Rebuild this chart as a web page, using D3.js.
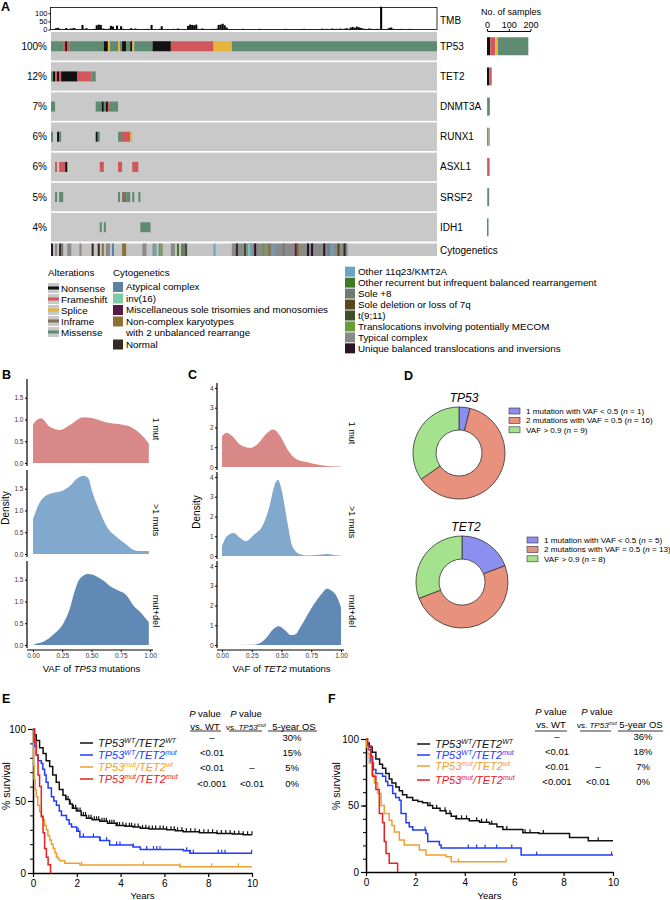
<!DOCTYPE html>
<html>
<head>
<meta charset="utf-8">
<script src="https://cdn.jsdelivr.net/npm/d3@7"></script>
<style>
body { margin: 0; background: #fff; }
svg { font-family: "Liberation Sans", Arial, Helvetica, sans-serif; }
</style>
</head>
<body>
<svg id="chart" width="670" height="900"></svg>
<script>
// ---------- panel A data ----------
const nSamples = 190
const genes = ["TP53", "TET2", "DNMT3A", "RUNX1", "ASXL1", "SRSF2", "IDH1"]
const genePct = ["100%", "12%", "7%", "6%", "6%", "5%", "4%"]
const altTypes = ["N", "F", "S", "I", "M"]
const altNames = ["Nonsense", "Frameshift", "Splice", "Inframe", "Missense"]
const altColors = ["#111111", "#d0575b", "#e5b43c", "#7d7058", "#5f8b73"]

// [first sample, last sample (excl), alteration]
const tp53Muts = [[0,6,"M"],[6,7,"F"],[7,8,"N"],[8,9,"F"],[9,26,"M"],[26,28,"N"],[28,29,"S"],[29,33,"M"],[33,34,"S"],[34,35,"M"],[35,37,"N"],[37,39,"M"],[39,40,"N"],[40,41,"S"],[41,50,"M"],[50,59,"N"],[59,80,"F"],[80,89,"S"],[89,190,"M"]]
const tet2Muts = [[0,1,"M"],[1,2,"N"],[2,3,"F"],[3,4,"N"],[4,5,"F"],[5,13,"N"],[13,20,"F"],[20,22,"M"]]
const dnmt3aMuts = [[0,2,"M"],[22,25,"M"],[25,26,"N"],[26,27,"M"],[27,28,"N"],[28,29,"F"],[29,33,"M"]]
const runx1Muts = [[0,1,"M"],[3,4,"N"],[4,5,"M"],[22,23,"N"],[23,24,"M"],[33,35,"M"],[35,39,"F"],[39,40,"S"]]
const asxl1Muts = [[2,3,"F"],[4,7,"F"],[7,8,"N"],[24,26,"F"],[33,35,"F"],[40,43,"F"]]
const srsf2Muts = [[2,3,"M"],[4,6,"M"],[33,34,"M"],[35,37,"I"],[37,39,"M"],[40,41,"M"],[43,44,"M"]]
const idh1Muts = [[24,25,"M"],[26,27,"M"],[44,49,"M"]]
const geneMuts = [tp53Muts, tet2Muts, dnmt3aMuts, runx1Muts, asxl1Muts, srsf2Muts, idh1Muts]

const tmb = [
  3,2,8,10,4,2,3,9,2,5, 7,9,3,1,2,28,4,8,2,1, 3,4,26,30,28,6,4,2,5,22, 18,3,24,2,20,4,2,1,3,8,
  2,6,3,1,2,1,3,4,2,28, 3,2,1,4,20,2,1,3,2,1, 4,2,6,1,2,3,2,22,30,28, 26,30,4,2,6,3,1,2,3,4,
  2,5,28,30,35,26,12,3,2,1, 2,1,3,1,4,2,1,2,3,1, 2,1,4,2,1,3,2,1,2,1, 1,3,2,1,2,4,1,2,1,3,
  2,1,3,2,4,1,2,3,1,2, 3,2,1,5,2,4,3,2,6,3, 4,2,6,3,5,8,4,12,16,10, 18,14,10,6,4,3,6,4,3,2,
  4,3,140,3,2,4,10,12,4,2, 3,2,4,1,3,2,4,3,1,2, 0,1,0,0,1,0,0,0,1,0
]

const cytoKeys = ["AC","INV16","MISC","NCK","NORM","K11","OREC","S8","DEL7","T911","MECOM","TC","UNQ"]
const cytoNames = ["Atypical complex","inv(16)","Miscellaneous sole trisomies and monosomies","Non-complex karyotypes","Normal",
  "Other 11q23/KMT2A","Other recurrent but infrequent balanced rearrangement","Sole +8","Sole deletion or loss of 7q","t(9;11)",
  "Translocations involving potentially MECOM","Typical complex","Unique balanced translocations and inversions"]
const cytoColors = ["#5b83a0","#7ccaa8","#5a1a48","#8a7234","#352a22","#6aa3c4","#3f7a22","#6f7a70","#5c4420","#3e5028","#6a9c38","#8a8a8a","#2b1424"]
const cytoSegs = [
  [89,146,"TC"],[2,3,"TC"],[8,10,"TC"],[14,15,"TC"],[27,29,"TC"],[45,47,"TC"],[50,51,"TC"],[54,55,"TC"],[59,61,"TC"],
  [0,1,"UNQ"],[4,5,"NORM"],[5,6,"S8"],[20,21,"NORM"],[23,24,"NORM"],[25,26,"NCK"],[30,31,"AC"],[35,37,"NCK"],
  [51,52,"K11"],[53,54,"MECOM"],[62,63,"OREC"],[64,66,"S8"],[66,67,"T911"],[80,81,"K11"],[91,92,"NORM"],[95,96,"T911"],
  [97,98,"INV16"],[98,99,"K11"],[100,101,"UNQ"],[104,105,"MECOM"],[107,108,"NCK"],[109,110,"K11"],[114,115,"S8"],
  [120,121,"MISC"],[121,122,"NCK"],[126,127,"UNQ"],[128,129,"UNQ"],[134,135,"UNQ"],[136,137,"AC"],[138,139,"K11"],
  [141,142,"DEL7"],[144,145,"NORM"]
]

// ---------- panels B, C data: [VAF, density] ----------
const tp53OneMut = [[0,0.89],[0.043,1.01],[0.07,1.03],[0.14,0.84],[0.23,0.76],[0.32,0.88],[0.43,1.05],[0.51,1.03],[0.63,0.93],[0.74,0.89],[0.84,0.82],[0.91,0.69],[0.99,0.45]]
const tp53MultiMut = [[0,0.79],[0.04,1.09],[0.1,1.32],[0.17,1.40],[0.24,1.44],[0.31,1.55],[0.385,1.75],[0.43,1.80],[0.47,1.75],[0.51,1.40],[0.57,0.98],[0.63,0.63],[0.71,0.40],[0.80,0.21],[0.86,0.09],[0.91,0.07],[0.99,0.07]]
const tp53MutDel = [[0.01,0.02],[0.1,0.09],[0.17,0.23],[0.26,0.5],[0.31,0.8],[0.36,1.27],[0.4,1.52],[0.47,1.63],[0.54,1.58],[0.6,1.48],[0.66,1.35],[0.73,1.25],[0.8,1.14],[0.86,0.9],[0.93,0.72],[0.99,0.52]]
const tet2OneMut = [[0,1.56],[0.04,1.73],[0.1,1.48],[0.15,1.14],[0.24,0.97],[0.31,1.23],[0.38,1.73],[0.43,1.90],[0.49,1.56],[0.55,0.89],[0.63,0.38],[0.72,0.24],[0.80,0.13],[0.91,0.04],[1.0,0.02]]
const tet2MultiMut = [[0,0.5],[0.04,1.0],[0.1,1.17],[0.15,0.92],[0.2,0.75],[0.27,1.09],[0.34,1.52],[0.4,2.54],[0.44,3.56],[0.47,3.86],[0.5,3.38],[0.55,1.69],[0.59,0.5],[0.65,0.1],[0.72,0.02],[0.82,0.06],[0.89,0.1],[0.95,0.04],[1.0,0.02]]
const tet2MutDel = [[0,0],[0.26,0.01],[0.32,0.1],[0.38,0.42],[0.43,0.8],[0.48,0.95],[0.53,0.75],[0.58,0.5],[0.62,0.55],[0.66,0.92],[0.74,1.75],[0.8,2.3],[0.84,2.6],[0.88,2.84],[0.92,2.75],[0.96,2.5],[1.0,1.9]]
const facetNames = ["1 mut", ">1 muts", "mut+del"]
const facetColors = ["#d98888", "#80a9cd", "#6089b5"]

// ---------- panel D data ----------
const donutCats = ["1 mutation with VAF < 0.5", "2 mutations with VAF = 0.5", "VAF > 0.9"]
const donutColors = ["#8c8ff0", "#e8917c", "#a5e28d"]
const tp53Donut = [1, 16, 9]
const tet2Donut = [5, 13, 8]

// ---------- panels E, F data: [years, % survival] ----------
const kmSup = [["WT","WT"],["WT","mut"],["mut","wt"],["mut","mut"]]
const kmColors = ["#111111", "#1f3bff", "#f0a030", "#e8201e"]
const eWtWt = [[0,100],[0.05,96],[0.15,92],[0.3,87],[0.46,83],[0.6,78],[0.76,74],[0.9,68],[1.06,63],[1.2,58],[1.37,54],[1.5,51],[1.67,48],[1.8,45],[1.98,43],[2.2,40],[2.44,38],[2.7,37],[3.05,36],[3.4,34.5],[3.8,33],[4.2,32.5],[4.57,32],[4.9,31],[5.3,30.5],[6.1,30],[6.5,29.3],[6.86,28.7],[7.6,28],[8.4,27.5],[9.1,27],[9.6,26.5],[10,26.5]]
const eWtMut = [[0,100],[0.08,88],[0.15,82],[0.23,78],[0.38,76],[0.45,72],[0.53,68],[0.6,63],[0.69,59],[0.84,53],[0.95,50],[1.07,47],[1.2,43],[1.3,40],[1.53,37],[1.65,34],[1.76,32],[2.0,29],[2.14,25],[3.05,22.5],[3.5,19.4],[4.57,18],[4.9,16.4],[6.87,15.5],[7.17,13.7],[10,13.7]]
const eMutWt = [[0,100],[0.02,75],[0.05,65],[0.1,58],[0.15,53],[0.22,47],[0.3,42.5],[0.38,40],[0.46,37],[0.53,33],[0.61,30],[0.68,26],[0.76,23],[0.84,20],[0.92,17],[1.0,14],[1.07,11],[1.15,9.5],[1.22,8.5],[1.45,6.7],[2.14,5.5],[6.7,4.4],[10,4.4]]
const eMutMut = [[0,100],[0.05,91],[0.15,82],[0.23,68],[0.3,60],[0.38,39],[0.46,28],[0.53,17],[0.61,11],[0.69,5.7],[0.8,0]]
const eCens = [
  [1.5,1.6,1.7,1.85,1.95,2.05,2.15,2.3,2.4,2.55,2.65,2.8,2.9,3.0,3.15,3.25,3.35,3.5,3.6,3.7,3.85,3.95,4.1,4.25,4.4,4.5,4.65,4.8,5.0,5.15,5.3,5.45,5.6,5.8,5.95,6.1,6.3,6.45,6.6,6.8,7.0,7.2,7.4,7.6,7.8,8.0,8.2,8.4,8.6,8.8,9.0,9.2,9.4,9.6,9.8,10],
  [2.07,2.3,2.76,3.06,3.36,3.82,3.97,4.58,5.19,5.5,5.65,5.8,7.02,7.17,7.32,8.46,8.62,8.77,9.98],
  [2.22,5.04,6.71,8.16,9.38],
  []
]
const fWtWt = [[0,100],[0.05,97],[0.13,94],[0.25,90],[0.4,85],[0.55,81],[0.67,78],[0.8,74],[0.94,70],[1.05,67],[1.21,64],[1.35,61],[1.48,58],[1.65,56],[1.89,54],[2.1,53],[2.29,52],[2.5,50],[2.7,48],[3.0,46],[3.24,44],[3.45,42],[3.64,40],[4.18,38.6],[4.6,37.5],[5.0,36],[5.3,34],[5.54,32],[6.35,29.5],[7.0,29],[8.24,26],[9.0,23.5],[10,23.5]]
const fWtMut = [[0,100],[0.05,96],[0.1,92],[0.2,82],[0.3,77],[0.4,74],[0.67,72],[0.8,68],[0.88,65],[1.08,59],[1.2,56],[1.35,54],[1.42,44],[1.62,37],[1.75,34],[1.89,31.6],[2.43,29],[2.5,23],[2.97,20.3],[3.04,18],[6.28,12.8],[10,12.8]]
const fMutWt = [[0,100],[0.03,94],[0.07,89],[0.13,82],[0.23,73],[0.34,67],[0.47,59],[0.61,50],[0.74,44],[0.94,39],[1.05,35],[1.15,30],[1.35,24],[1.55,20.3],[2.16,16.5],[2.43,12.8],[3.24,11.5],[3.45,7.7],[5.68,7.7]]
const fMutMut = [[0,100],[0.07,95],[0.2,87],[0.27,72],[0.4,62],[0.54,44],[0.67,37],[0.74,23],[0.81,14],[0.94,6.5],[1.28,0]]
const fCens = [
  [2.59,2.86,3.2,3.4,3.67,3.87,4.07,4.48,4.68,4.88,5.09,5.7,6.44,6.64,7.18,9.4],
  [2.39,4.14,4.48,4.82,5.29,5.9,6.91,9.94],
  [3.74,5.68],
  []
]
const pVsWt = ["\u2013", "<0.01", "<0.01", "<0.001"]
const pVsMut = ["", "", "\u2013", "<0.01"]
const eOs5 = ["30%", "15%", "5%", "0%"]
const fOs5 = ["36%", "18%", "7%", "0%"]

// ---------------------------------------------------------------
const svg = d3.select("#chart")
const typeColor = {}
altTypes.forEach((t, i) => typeColor[t] = altColors[i])
const cytoColor = {}
cytoKeys.forEach((k, i) => cytoColor[k] = cytoColors[i])

function letter(t, x, y) {
  svg.append("text").attr("x", x).attr("y", y).attr("font-size", 12.5).attr("font-weight", "bold").text(t)
}

// ---------- A: TMB ----------
const xS = d3.scaleLinear().domain([0, nSamples]).range([51, 437])
const tmbY = d3.scaleLinear().domain([0, 135]).range([29.5, 7.5])
const gA = svg.append("g")
gA.append("g").selectAll("rect").data(tmb).join("rect")
  .attr("x", (d, i) => xS(i)).attr("width", xS(1) - xS(0))
  .attr("y", d => tmbY(d)).attr("height", d => tmbY(0) - tmbY(d))
  .attr("fill", "#000")
gA.append("rect").attr("x", 50.5).attr("y", 7.5).attr("width", 386.5).attr("height", 22)
  .attr("fill", "none").attr("stroke", "#000").attr("stroke-width", 0.8)
gA.append("g").attr("transform", "translate(50.5,0)")
  .call(d3.axisLeft(tmbY).tickValues([0, 50, 100]).tickSize(2).tickPadding(1).tickSizeOuter(0))
  .call(g => g.select(".domain").remove())
  .call(g => g.selectAll("text").attr("font-size", 7.5).attr("font-family", null))
gA.append("text").attr("x", 440).attr("y", 23.5).attr("font-size", 10).text("TMB")

// ---------- A: oncoprint ----------
const rowY = d3.scaleBand().domain(genes).range([32, 241.5]).paddingInner(0.055)
gA.append("g").selectAll("rect").data(genes).join("rect")
  .attr("x", xS(0)).attr("width", xS(nSamples) - xS(0))
  .attr("y", d => rowY(d)).attr("height", rowY.bandwidth())
  .attr("fill", "#c9c9c9")
genes.forEach((g, gi) => {
  const cy = rowY(g) + rowY.bandwidth() / 2
  gA.append("g").selectAll("rect").data(geneMuts[gi]).join("rect")
    .attr("x", d => xS(d[0])).attr("width", d => xS(d[1]) - xS(d[0]))
    .attr("y", cy - 5).attr("height", 10)
    .attr("fill", d => typeColor[d[2]])
  gA.append("text").attr("x", 47).attr("y", cy + 3.5).attr("text-anchor", "end")
    .attr("font-size", 10).text(genePct[gi])
  gA.append("text").attr("x", 440).attr("y", cy + 3.5).attr("font-size", 10).text(g)
})
gA.append("rect").attr("x", xS(0)).attr("width", xS(nSamples) - xS(0))
  .attr("y", 243.5).attr("height", 12.5).attr("fill", "#c4c4c4")
gA.append("g").selectAll("rect").data(cytoSegs).join("rect")
  .attr("x", d => xS(d[0])).attr("width", d => xS(d[1]) - xS(d[0]))
  .attr("y", 243.5).attr("height", 12.5)
  .attr("fill", d => cytoColor[d[2]])
gA.append("text").attr("x", 440).attr("y", 253.5).attr("font-size", 10).text("Cytogenetics")

// ---------- A: sample count bars ----------
const xB = d3.scaleLinear().domain([0, 200]).range([487, 530.5])
genes.forEach((g, gi) => {
  const cy = rowY(g) + rowY.bandwidth() / 2
  let acc = 0
  const stack = altTypes.map(t => {
    const n = d3.sum(geneMuts[gi].filter(d => d[2] === t), d => d[1] - d[0])
    const s = [acc, acc + n, t]
    acc += n
    return s
  }).filter(s => s[1] > s[0])
  gA.append("g").selectAll("rect").data(stack).join("rect")
    .attr("x", d => xB(d[0])).attr("width", d => xB(d[1]) - xB(d[0]))
    .attr("y", cy - 9).attr("height", 18)
    .attr("fill", d => typeColor[d[2]])
})
gA.append("g").attr("transform", "translate(0,31)")
  .call(d3.axisTop(xB).tickValues([0, 100, 200]).tickSize(2).tickPadding(1).tickSizeOuter(0))
  .call(g => g.selectAll("text").attr("font-size", 9).attr("font-family", null))
gA.append("text").attr("x", 481).attr("y", 14.5).attr("font-size", 9).text("No. of samples")
letter("A", 1, 11)

// ---------- A: legends ----------
const legA = svg.append("g").attr("font-size", 9.8)
legA.append("text").attr("x", 48).attr("y", 276).text("Alterations")
altTypes.forEach((t, i) => {
  const cy = 288 + i * 11
  legA.append("rect").attr("x", 48).attr("y", cy - 5).attr("width", 11).attr("height", 10).attr("fill", "#c9c9c9")
  legA.append("rect").attr("x", 48).attr("y", cy - 1.5).attr("width", 11).attr("height", 3).attr("fill", altColors[i])
  legA.append("text").attr("x", 61).attr("y", cy + 3.5).text(altNames[i])
})
legA.append("text").attr("x", 113).attr("y", 276).text("Cytogenetics")
const leftSlots = [0, 1, 2, 3, 5]
cytoNames.forEach((name, i) => {
  let sx, cy
  if (i < 5) { sx = 113; cy = 287 + leftSlots[i] * 11.5 }
  else { sx = 345; cy = 271.7 + (i - 5) * 10.95 }
  legA.append("rect").attr("x", sx).attr("y", cy - 5).attr("width", 10).attr("height", 10).attr("fill", cytoColors[i])
  legA.append("text").attr("x", sx + 13).attr("y", cy + 3.4).text(name)
})
legA.append("text").attr("x", 126).attr("y", 333 + 3.4).text("with 2 unbalanced rearrange")

// ---------- B, C: density plots ----------
function densityPanel(cfg) {
  const g = svg.append("g")
  const x = d3.scaleLinear().domain([0, 1]).range(cfg.xr)
  cfg.data.forEach((data, k) => {
    const z = cfg.zeros[k]
    const y = d3.scaleLinear().domain([0, cfg.yMax]).range([z, z - 84])
    const area = d3.area().x(d => x(d[0])).y0(z).y1(d => y(d[1])).curve(d3.curveMonotoneX)
    g.append("path").datum(data).attr("d", area).attr("fill", facetColors[k])
    g.append("g").attr("transform", `translate(${cfg.axisX},0)`)
      .call(d3.axisLeft(y).tickValues(cfg.yTicks).tickFormat(d3.format(cfg.fmt)).tickSize(2).tickPadding(1.5))
      .call(s => s.select(".domain").remove())
      .call(s => s.selectAll("text").attr("font-size", 6.5).attr("fill", "#333").attr("font-family", null))
    g.append("line").attr("x1", cfg.axisX).attr("x2", cfg.axisX).attr("y1", z - 84).attr("y2", z + 3)
      .attr("stroke", "#000").attr("stroke-width", 1.2)
    g.append("text").attr("transform", `translate(${cfg.labelX},${z - 34}) rotate(90)`)
      .attr("text-anchor", "middle").attr("font-size", 9).text(facetNames[k])
  })
  const yb = cfg.zeros[2] + 5
  g.append("g").attr("transform", `translate(0,${yb})`)
    .call(d3.axisBottom(x).tickValues([0, 0.25, 0.5, 0.75, 1]).tickFormat(d3.format(".2f")).tickSize(2).tickPadding(1.5))
    .call(s => s.select(".domain").remove())
    .call(s => s.selectAll("text").attr("font-size", 6.5).attr("fill", "#333").attr("font-family", null))
  g.append("line").attr("x1", cfg.axisX).attr("x2", cfg.xr[1] + 3).attr("y1", yb).attr("y2", yb)
    .attr("stroke", "#000").attr("stroke-width", 1.2)
  const xl = g.append("text").attr("x", (cfg.xr[0] + cfg.xr[1]) / 2).attr("y", 672)
    .attr("text-anchor", "middle").attr("font-size", 9.5)
  xl.append("tspan").text("VAF of ")
  xl.append("tspan").attr("font-style", "italic").text(cfg.gene)
  xl.append("tspan").text(" mutations")
  g.append("text").attr("transform", `translate(${cfg.densX},${cfg.densY}) rotate(-90)`)
    .attr("text-anchor", "middle").attr("font-size", 10).text("Density")
}
densityPanel({ xr: [33, 150], axisX: 27, zeros: [463, 554, 645], yMax: 1.93, yTicks: [0, 0.5, 1, 1.5], fmt: ".1f",
  data: [tp53OneMut, tp53MultiMut, tp53MutDel], labelX: 153, gene: "TP53", densX: 8.5, densY: 508 })
densityPanel({ xr: [222, 341], axisX: 217, zeros: [467, 556, 645], yMax: 4.25, yTicks: [0, 1, 2, 3, 4], fmt: "d",
  data: [tet2OneMut, tet2MultiMut, tet2MutDel], labelX: 349, gene: "TET2", densX: 199.5, densY: 512 })
letter("B", 2, 379)
letter("C", 188, 379)

// ---------- D: donuts ----------
letter("D", 404, 380)
function donut(cfg) {
  const g = svg.append("g").attr("transform", `translate(${cfg.cx},${cfg.cy})`)
  const arcs = d3.pie().sort(null)(cfg.values)
  const arc = d3.arc().innerRadius(23).outerRadius(46)
  g.selectAll("path").data(arcs).join("path").attr("d", arc)
    .attr("fill", (d, i) => donutColors[i]).attr("stroke", "#333").attr("stroke-width", 0.8)
  svg.append("text").attr("x", cfg.tx).attr("y", cfg.ty).attr("text-anchor", "middle")
    .attr("font-size", 12).attr("font-style", "italic").text(cfg.gene)
  cfg.values.forEach((v, i) => {
    const cy = cfg.ly + i * 9.4
    svg.append("rect").attr("x", cfg.lx).attr("y", cy - 3).attr("width", 11).attr("height", 6)
      .attr("fill", donutColors[i]).attr("stroke", "#333").attr("stroke-width", 0.6)
    const t = svg.append("text").attr("x", cfg.lx + 17).attr("y", cy + 3).attr("font-size", 8.1)
    t.append("tspan").text(donutCats[i] + " (")
    t.append("tspan").attr("font-style", "italic").text("n")
    t.append("tspan").text(" = " + v + ")")
  })
}
donut({ gene: "TP53", values: tp53Donut, cx: 459, cy: 453, tx: 464, ty: 402, lx: 509, ly: 411 })
donut({ gene: "TET2", values: tet2Donut, cx: 462, cy: 582, tx: 466, ty: 531, lx: 527, ly: 540 })

// ---------- E, F: Kaplan-Meier ----------
function survAt(curve, t) {
  let s = curve[0][1]
  curve.forEach(p => { if (p[0] <= t) s = p[1] })
  return s
}
function kmPanel(cfg) {
  const g = svg.append("g")
  const x = d3.scaleLinear().domain([0, 10]).range(cfg.xr)
  const y = d3.scaleLinear().domain([0, 100]).range(cfg.yr)
  g.append("g").attr("transform", `translate(${cfg.xr[0]},0)`)
    .call(d3.axisLeft(y).tickValues(d3.range(0, 101, 10)).tickFormat("").tickSize(3).tickSizeOuter(0))
    .call(s => s.select(".domain").remove())
  g.append("g").attr("transform", `translate(${cfg.xr[0]},0)`)
    .call(d3.axisLeft(y).tickValues([0, 50, 100]).tickSize(5).tickPadding(2).tickSizeOuter(0))
    .call(s => s.select(".domain").attr("stroke-width", 1.5))
    .call(s => s.selectAll("line").attr("stroke-width", 1.2))
    .call(s => s.selectAll("text").attr("font-size", 10).attr("font-family", null))
  g.append("g").attr("transform", `translate(0,${cfg.yr[0]})`)
    .call(d3.axisBottom(x).tickValues([0, 2, 4, 6, 8, 10]).tickSize(4).tickPadding(3).tickSizeOuter(0))
    .call(s => s.select(".domain").attr("stroke-width", 1.5))
    .call(s => s.selectAll("line").attr("stroke-width", 1.2))
    .call(s => s.selectAll("text").attr("font-size", 10).attr("font-family", null))
  g.append("text").attr("x", (cfg.xr[0] + cfg.xr[1]) / 2).attr("y", 899).attr("text-anchor", "middle")
    .attr("font-size", 9.5).text("Years")
  g.append("text").attr("transform", `translate(${cfg.survX},786) rotate(-90)`)
    .attr("text-anchor", "middle").attr("font-size", 10.5).text("% survival")

  const line = d3.line().x(d => x(d[0])).y(d => y(d[1])).curve(d3.curveStepAfter)
  cfg.curves.forEach((c, i) => {
    g.append("path").datum(c).attr("d", line).attr("fill", "none")
      .attr("stroke", kmColors[i]).attr("stroke-width", 1.5)
    g.append("g").selectAll("line").data(cfg.cens[i]).join("line")
      .attr("x1", d => x(d)).attr("x2", d => x(d))
      .attr("y1", d => y(survAt(c, d)) - 3.5).attr("y2", d => y(survAt(c, d)))
      .attr("stroke", kmColors[i]).attr("stroke-width", 1.2)
  })
  // legend
  kmSup.forEach((s, i) => {
    const cy = cfg.legY[i]
    g.append("line").attr("x1", cfg.legX).attr("x2", cfg.legX + 13).attr("y1", cy).attr("y2", cy)
      .attr("stroke", kmColors[i]).attr("stroke-width", 1.5)
    const t = g.append("text").attr("x", cfg.legX + 18).attr("y", cy + 4)
      .attr("font-size", 11).attr("font-style", "italic").attr("fill", kmColors[i])
    t.append("tspan").text("TP53")
    t.append("tspan").attr("dy", -4).attr("font-size", 7).text(s[0])
    t.append("tspan").attr("dy", 4).text("/TET2")
    t.append("tspan").attr("dy", -4).attr("font-size", 7).text(s[1])
  })
  // table
  const tb = g.append("g").attr("font-size", 9.5).attr("text-anchor", "middle")
  const h1 = tb.append("text").attr("x", cfg.hx[0]).attr("y", cfg.hy[0])
  h1.append("tspan").attr("font-style", "italic").text("P")
  h1.append("tspan").text(" value")
  tb.append("text").attr("x", cfg.hx[0]).attr("y", cfg.hy[1]).text("vs. WT")
  const h2 = tb.append("text").attr("x", cfg.hx[1]).attr("y", cfg.hy[0])
  h2.append("tspan").attr("font-style", "italic").text("P")
  h2.append("tspan").text(" value")
  const h3 = tb.append("text").attr("x", cfg.hx[1]).attr("y", cfg.hy[1]).attr("font-size", 8)
  h3.append("tspan").text("vs. ")
  h3.append("tspan").attr("font-style", "italic").text("TP53")
  h3.append("tspan").attr("dy", -3).attr("font-size", 5).attr("font-style", "italic").text("mut")
  tb.append("text").attr("x", cfg.hx[2]).attr("y", cfg.hy[1]).text("5-year OS")
  cfg.under.forEach(u => {
    tb.append("line").attr("x1", u[0]).attr("x2", u[1]).attr("y1", 731).attr("y2", 731)
      .attr("stroke", "#000").attr("stroke-width", 0.8)
  })
  const cols = [pVsWt, pVsMut, cfg.os5]
  cols.forEach((col, ci) => {
    col.forEach((v, ri) => {
      tb.append("text").attr("x", cfg.vx[ci]).attr("y", cfg.rowY[ri] + 3.5).text(v)
    })
  })
}
kmPanel({ xr: [33, 252], yr: [873, 729], curves: [eWtWt, eWtMut, eMutWt, eMutMut], cens: eCens, survX: 10,
  legX: 80, legY: [743, 755, 767, 779], hx: [205, 246, 294], hy: [717, 729.5],
  under: [[190, 221], [229, 262], [268, 317]], vx: [212, 252, 292], rowY: [737, 752, 767, 783], os5: eOs5 })
kmPanel({ xr: [366, 613], yr: [872, 739], curves: [fWtWt, fWtMut, fMutWt, fMutMut], cens: fCens, survX: 340,
  legX: 417, legY: [744, 755, 766, 780], hx: [551, 597, 641], hy: [715, 727.5],
  under: [[535, 567], [580, 611], [618, 663]], vx: [557, 598, 643], rowY: [736, 751, 766, 781], os5: fOs5 })
letter("E", 2, 703)
letter("F", 328, 703)
</script>
</body>
</html>
